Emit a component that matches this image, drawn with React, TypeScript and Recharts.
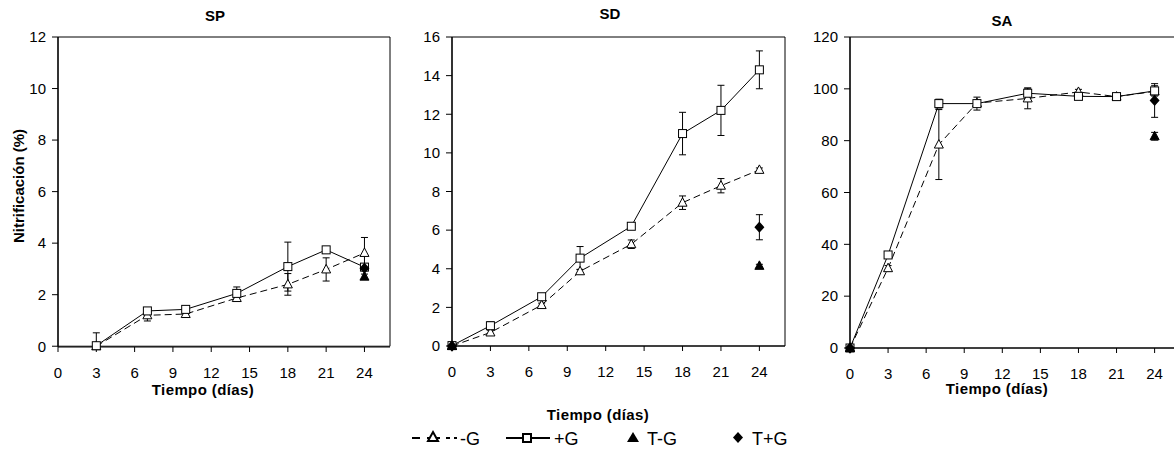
import React from 'react';
import { ComposedChart, Line, XAxis, YAxis, ErrorBar, ReferenceArea } from 'recharts';

const days = [0, 3, 7, 10, 14, 18, 21, 24];
const xTicks = [0, 3, 6, 9, 12, 15, 18, 21, 24];

// SP
const spMinusG = [null, 0, 1.2, 1.25, 1.87, 2.4, 2.98, 3.62];
const spMinusGErr = [null, null, 0.22, 0.05, 0.08, 0.42, 0.45, 0.6];
const spPlusG = [null, 0.02, 1.37, 1.43, 2.05, 3.09, 3.74, 3.07];
const spPlusGErr: any[] = [null, [0.05, 0.5], 0.08, 0.05, 0.25, 0.95, 0.1, 0.1];
const spTMinusG = [null, null, null, null, null, null, null, 2.7];
const spTMinusGErr = [null, null, null, null, null, null, null, 0.1];
const spTPlusG = [null, null, null, null, null, null, null, 3.03];
const spTPlusGErr = [null, null, null, null, null, null, null, 0.1];

// SD
const sdMinusG = [0, 0.7, 2.12, 3.87, 5.27, 7.42, 8.3, 9.12];
const sdMinusGErr = [null, 0.12, 0.1, 0.1, 0.22, 0.35, 0.37, 0.1];
const sdPlusG = [0.02, 1.05, 2.55, 4.55, 6.2, 11.0, 12.2, 14.3];
const sdPlusGErr = [null, 0.2, 0.1, 0.6, 0.08, 1.1, 1.3, 0.98];
const sdTMinusG = [0, null, null, null, null, null, null, 4.15];
const sdTMinusGErr = [null, null, null, null, null, null, null, 0.08];
const sdTPlusG = [0, null, null, null, null, null, null, 6.15];
const sdTPlusGErr = [null, null, null, null, null, null, null, 0.65];

// SA
const saMinusG = [0, 30.8, 78.5, 94.5, 96.3, 98.8, 97, 99];
const saMinusGErr = [null, 1, 13.5, 1, 4, 1, 0.5, 1];
const saPlusG = [0, 35.9, 94.3, 94.3, 98.3, 97.1, 97, 99.2];
const saPlusGErr = [null, 1, 1.7, 2.5, 2, 1, 1, 2];
const saTMinusG = [0, null, null, null, null, null, null, 81.7];
const saTMinusGErr = [null, null, null, null, null, null, null, 1.5];
const saTPlusG = [0, null, null, null, null, null, null, 95.5];
const saTPlusGErr = [null, null, null, null, null, null, null, 6.5];

const FONT = '"Liberation Sans", Arial, Helvetica, sans-serif';

function buildRows(mg: any[], mgE: any[], pg: any[], pgE: any[], tm: any[], tmE: any[], tp: any[], tpE: any[]) {
  return days.map((d, i) => ({
    day: d,
    mg: mg[i], mgE: mgE[i],
    pg: pg[i], pgE: pgE[i],
    tm: tm[i], tmE: tmE[i],
    tp: tp[i], tpE: tpE[i],
  }));
}

const ok = (p: any) => p && p.cx != null && p.cy != null && p.value != null && !Number.isNaN(p.cx) && !Number.isNaN(p.cy);

const SquareDot = (p: any) => {
  if (!ok(p)) return <g key={p?.key ?? Math.random()} />;
  const s = 4;
  return <rect key={p.key} x={p.cx - s} y={p.cy - s} width={2 * s} height={2 * s} fill="#fff" stroke="#000" strokeWidth={1} />;
};
const TriDot = (p: any) => {
  if (!ok(p)) return <g key={p?.key ?? Math.random()} />;
  const { cx, cy } = p;
  return <path key={p.key} d={`M${cx},${cy - 5}L${cx + 4.5},${cy + 3.5}L${cx - 4.5},${cy + 3.5}Z`} fill="#fff" stroke="#000" strokeWidth={1} />;
};
const FilledTri = (p: any) => {
  if (!ok(p)) return <g key={p?.key ?? Math.random()} />;
  const { cx, cy } = p;
  return <path key={p.key} d={`M${cx},${cy - 5}L${cx + 4.5},${cy + 3.5}L${cx - 4.5},${cy + 3.5}Z`} fill="#000" stroke="#000" strokeWidth={1} />;
};
const Diamond = (p: any) => {
  if (!ok(p)) return <g key={p?.key ?? Math.random()} />;
  const { cx, cy } = p;
  return <path key={p.key} d={`M${cx},${cy - 4.5}L${cx + 4},${cy}L${cx},${cy + 4.5}L${cx - 4},${cy}Z`} fill="#000" stroke="#000" strokeWidth={1.5} />;
};

type PanelProps = {
  rows: any[];
  yMax: number;
  yTicks: number[];
  left: number;
  width: number;
  yAxisWidth: number;
  xAxisHeight: number;
  rightMargin: number;
};

function Panel({ rows, yMax, yTicks, left, width, yAxisWidth, xAxisHeight, rightMargin }: PanelProps) {
  const tickStyle = { fill: '#000', fontSize: 15, fontFamily: FONT };
  return (
    <div style={{ position: 'absolute', left, top: 0 }}>
      <ComposedChart width={width} height={400} data={rows} margin={{ top: 37, right: rightMargin, left: 0, bottom: 0 }}>
        <XAxis dataKey="day" type="number" domain={[0, 26]} ticks={xTicks}
          tick={tickStyle} tickSize={5} tickMargin={15} height={xAxisHeight}
          axisLine={{ stroke: '#000', strokeWidth: 1.2 }} tickLine={{ stroke: '#000' }} />
        <YAxis type="number" domain={[0, yMax]} ticks={yTicks}
          tick={tickStyle} tickSize={6} tickMargin={6} width={yAxisWidth}
          axisLine={{ stroke: '#000', strokeWidth: 1.2 }} tickLine={{ stroke: '#000' }} />
        <ReferenceArea x1={0} x2={26} y1={0} y2={yMax} fill="none" stroke="#000" strokeWidth={1} ifOverflow="visible" />
        <Line dataKey="mg" stroke="#000" strokeWidth={1} strokeDasharray="7 4" dot={TriDot} activeDot={false} isAnimationActive={false} connectNulls>
          <ErrorBar dataKey="mgE" width={3.5} stroke="#000" strokeWidth={1} direction="y" />
        </Line>
        <Line dataKey="pg" stroke="#000" strokeWidth={1} dot={SquareDot} activeDot={false} isAnimationActive={false} connectNulls>
          <ErrorBar dataKey="pgE" width={3.5} stroke="#000" strokeWidth={1} direction="y" />
        </Line>
        <Line dataKey="tp" stroke="none" dot={Diamond} activeDot={false} isAnimationActive={false}>
          <ErrorBar dataKey="tpE" width={3.5} stroke="#000" strokeWidth={1} direction="y" />
        </Line>
        <Line dataKey="tm" stroke="none" dot={FilledTri} activeDot={false} isAnimationActive={false}>
          <ErrorBar dataKey="tmE" width={3.5} stroke="#000" strokeWidth={1} direction="y" />
        </Line>
      </ComposedChart>
    </div>
  );
}

const abs = (left: number, top: number, extra: any = {}) => ({ position: 'absolute' as const, left, top, fontFamily: FONT, color: '#000', whiteSpace: 'nowrap' as const, ...extra });

export default function App() {
  const spRows = buildRows(spMinusG, spMinusGErr, spPlusG, spPlusGErr, spTMinusG, spTMinusGErr, spTPlusG, spTPlusGErr);
  const sdRows = buildRows(sdMinusG, sdMinusGErr, sdPlusG, sdPlusGErr, sdTMinusG, sdTMinusGErr, sdTPlusG, sdTPlusGErr);
  const saRows = buildRows(saMinusG, saMinusGErr, saPlusG, saPlusGErr, saTMinusG, saTMinusGErr, saTPlusG, saTPlusGErr);

  const titleStyle = { fontWeight: 'bold', fontSize: 15, transform: 'translate(-50%, -50%)' };
  const xLabStyle = { fontWeight: 'bold', fontSize: 15, letterSpacing: 0.4, transform: 'translate(-50%, -50%)' };

  return (
    <div style={{ position: 'absolute', left: 0, top: 0, width: 1174, height: 459, overflow: 'hidden', background: '#fff' }}>
      <Panel rows={spRows} yMax={12} yTicks={[0, 2, 4, 6, 8, 10, 12]} left={0} width={400} yAxisWidth={58} xAxisHeight={53} rightMargin={10} />
      <Panel rows={sdRows} yMax={16} yTicks={[0, 2, 4, 6, 8, 10, 12, 14, 16]} left={400} width={400} yAxisWidth={52} xAxisHeight={54} rightMargin={15} />
      <Panel rows={saRows} yMax={120} yTicks={[0, 20, 40, 60, 80, 100, 120]} left={800} width={380} yAxisWidth={50} xAxisHeight={52} rightMargin={0} />

      <div style={abs(215, 15, titleStyle)}>SP</div>
      <div style={abs(610, 13, titleStyle)}>SD</div>
      <div style={abs(1002, 20, titleStyle)}>SA</div>

      <div style={abs(203, 389, xLabStyle)}>Tiempo (días)</div>
      <div style={abs(598, 414, xLabStyle)}>Tiempo (días)</div>
      <div style={abs(997, 388, xLabStyle)}>Tiempo (días)</div>

      <div style={abs(18, 186, { fontWeight: 'bold', fontSize: 15, transform: 'translate(-50%, -50%) rotate(-90deg)' })}>Nitrificación (%)</div>

      <svg style={{ position: 'absolute', left: 0, top: 420 }} width={1174} height={39}>
        <g stroke="#000" strokeWidth={2}>
          <line x1={412} y1={18} x2={420} y2={18} />
          <line x1={427} y1={18} x2={440} y2={18} />
          <line x1={446} y1={18} x2={450} y2={18} />
          <line x1={454} y1={18} x2={457} y2={18} />
        </g>
        <path d="M433,12L438,21L428,21Z" fill="#fff" stroke="#000" strokeWidth={2} />
        <text x={460} y={25} fontSize={18} fontFamily={FONT} fill="#000">-G</text>
        <line x1={506} y1={18} x2={550} y2={18} stroke="#000" strokeWidth={2} />
        <rect x={523} y={14} width={8} height={8} fill="#fff" stroke="#000" strokeWidth={2} />
        <text x={554} y={25} fontSize={18} fontFamily={FONT} fill="#000">+G</text>
        <path d="M633,12L639,22L627,22Z" fill="#000" />
        <text x={647} y={25} fontSize={18} fontFamily={FONT} fill="#000">T-G</text>
        <path d="M738,12L743,17.5L738,23L733,17.5Z" fill="#000" />
        <text x={752} y={25} fontSize={18} fontFamily={FONT} fill="#000">T+G</text>
      </svg>
    </div>
  );
}
